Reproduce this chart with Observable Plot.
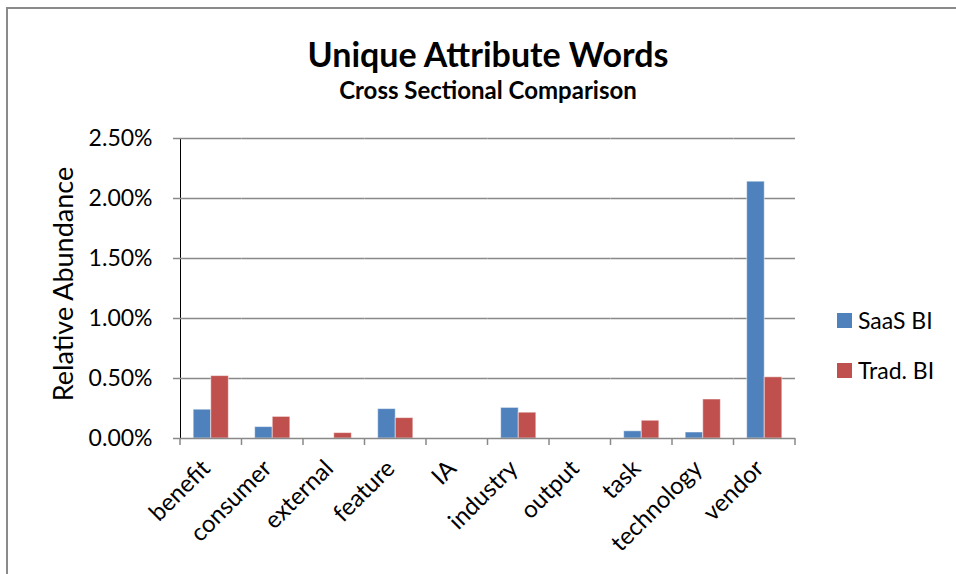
<!DOCTYPE html>
<html><head><meta charset="utf-8">
<script src="https://cdn.jsdelivr.net/npm/d3@7"></script>
<script src="https://cdn.jsdelivr.net/npm/@observablehq/plot@0.6"></script>
<style>
body{margin:0;background:#fff;font-family:Lato,"Open Sans",sans-serif;color:#000;}
#wrap{position:relative;width:956px;height:574px;overflow:hidden;background:#fff;}
#frame{position:absolute;left:6px;top:7px;width:980px;height:620px;border:2px solid #8a8a8a;box-sizing:border-box;}
#chart{position:absolute;left:0;top:0;}
.title{position:absolute;left:0;width:976px;text-align:center;font-weight:bold;line-height:1;white-space:nowrap;}
#t1{top:37px;font-size:34px;}
#t2{top:78px;font-size:24px;}
#ylab{position:absolute;left:62px;top:284px;font-size:27px;line-height:1;white-space:nowrap;transform:translate(-50%,-50%) rotate(-90deg);}
.sw{position:absolute;width:15px;height:15px;left:837px;}
.lt{position:absolute;left:858px;font-size:23px;line-height:1;white-space:nowrap;}
g[aria-label^="y-axis"] line, g[aria-label^="y-axis"] path{stroke:#898989;stroke-width:1.5px;}
</style>
</head><body>
<div id="wrap">
  <div id="frame"></div>
  <div id="chart"></div>
  <div class="title" id="t1">Unique Attribute Words</div>
  <div class="title" id="t2">Cross Sectional Comparison</div>
  <div id="ylab">Relative Abundance</div>
  <div id="legend"></div>
</div>
<script>
const categories = ["benefit","consumer","external","feature","IA","industry","output","task","technology","vendor"];
const series = ["SaaS BI","Trad. BI"];
const saasValues = [0.0024,0.00095,0,0.00245,0,0.00255,0,0.0006,0.0005,0.0214];
const tradValues = [0.0052,0.0018,0.00045,0.0017,0,0.00215,0,0.00148,0.00325,0.0051];
const yTicks = [0,0.005,0.01,0.015,0.02,0.025];
const colors = ["#4F81BD","#C0504D"];

// keep zero rows so that no facet is empty (avoids repeated y axes)
const data = categories.flatMap((c,i)=>[
  {category:c, series:series[0], value:saasValues[i]},
  {category:c, series:series[1], value:tradValues[i]}
]);

const grey = "#898989";
const hasAxisMarks = typeof Plot.axisFx === "function";
const marks = [
  Plot.ruleY(yTicks.slice(1), {stroke:grey, strokeWidth:1.5}),
  Plot.barY(data, {x:"series", y:"value", fill:"series", stroke:"#fff", strokeOpacity:0.5, strokeWidth:1}),
  Plot.ruleY([0], {stroke:grey, strokeWidth:1.5})
];
if (hasAxisMarks) marks.push(Plot.axisFx({anchor:"bottom", tickRotate:-45, tickSize:0, tickPadding:26, dx:-5, label:null, fontSize:24}));

const chart = Plot.plot({
  width:956, height:574,
  marginTop:138, marginBottom:136, marginLeft:180, marginRight:161,
  style:{fontFamily:"Lato, 'Open Sans', sans-serif", fontSize:"23px", color:"#000", background:"transparent", overflow:"visible"},
  facet:{data, x:"category"},
  fx:{domain:categories, padding:0, round:false, label:null, tickRotate:-45, tickSize:0, tickPadding:26},
  x:{domain:series, paddingInner:0, paddingOuter:0.75, round:false, axis:null},
  y:{domain:[0,0.025], ticks:yTicks, tickFormat:d3.format(".2%"), tickSize:7, tickPadding:21, label:null, line:true},
  color:{domain:series, range:colors},
  marks
});
document.getElementById("chart").appendChild(chart);

// boundary tick marks between categories, placed via the library's scales
const fx = chart.scale("fx"), ys = chart.scale("y");
const y0 = ys.apply(0);
const bounds = categories.map(c=>fx.apply(c)).concat([fx.apply(categories[categories.length-1]) + fx.step]);
const svg = d3.select(chart.tagName.toLowerCase()==="svg" ? chart : chart.querySelector("svg"));
svg.append("g").selectAll("line").data(bounds).join("line")
  .attr("x1",d=>d).attr("x2",d=>d).attr("y1",y0).attr("y2",y0+7)
  .attr("stroke",grey).attr("stroke-width",1.5);

// legend
const legend = document.getElementById("legend");
const legendTop = [313, 363];
series.forEach((s,i)=>{
  const sw = document.createElement("div"); sw.className="sw"; sw.style.background=colors[i]; sw.style.top=legendTop[i]+"px";
  const t = document.createElement("div"); t.className="lt"; t.textContent=s; t.style.top=(legendTop[i]-4)+"px";
  legend.appendChild(sw); legend.appendChild(t);
});
</script>
</body></html>
